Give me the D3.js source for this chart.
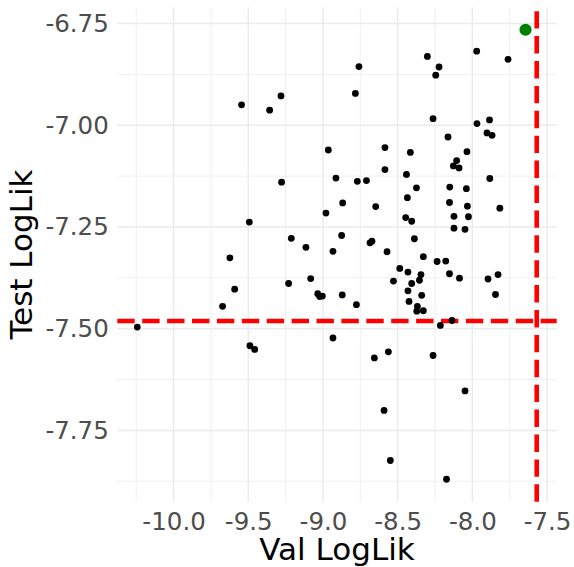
<!DOCTYPE html>
<html>
<head>
<meta charset="utf-8">
<script src="https://cdn.jsdelivr.net/npm/d3@7"></script>
<style>
  body { margin: 0; background: #fff; }
  text { font-family: "DejaVu Sans", sans-serif; }
</style>
</head>
<body>
<svg width="574" height="567"></svg>
<script>
// validation vs test log-likelihood, one point per run
var valLogLik = [
  -9.545, -9.357, -9.281, -8.964, -9.277, -8.913, -8.868, -8.980, -9.493, -9.212,
  -9.114, -8.875, -8.933, -9.623, -9.591, -9.672, -9.230, -9.082, -9.035, -9.022,
  -9.004, -8.871, -10.243, -8.933, -9.489, -9.457, -7.971, -7.761, -8.301, -8.223,
  -8.245, -8.759, -8.783, -8.263, -7.969, -7.885, -7.902, -7.868, -8.163, -8.585,
  -8.415, -8.036, -8.105, -8.127, -8.089, -8.585, -8.441, -8.770, -8.709, -7.883,
  -8.374, -8.151, -8.040, -8.647, -8.435, -8.153, -8.033, -7.816, -8.446, -8.406,
  -8.123, -8.026, -8.123, -8.049, -8.388, -8.685, -8.672, -8.571, -8.328, -8.236,
  -8.178, -8.486, -8.431, -8.344, -8.153, -8.086, -7.895, -7.828, -8.528, -8.406,
  -8.354, -8.431, -8.339, -7.845, -8.776, -8.424, -8.368, -8.372, -8.328, -8.136,
  -8.214, -8.562, -8.656, -8.263, -8.049, -8.591, -8.549, -8.173
];
var testLogLik = [
  -6.950, -6.963, -6.928, -7.061, -7.140, -7.130, -7.191, -7.216, -7.238, -7.278,
  -7.300, -7.271, -7.310, -7.326, -7.403, -7.445, -7.389, -7.377, -7.414, -7.421,
  -7.420, -7.417, -7.496, -7.523, -7.542, -7.551, -6.818, -6.838, -6.831, -6.857,
  -6.877, -6.856, -6.922, -6.984, -6.996, -6.987, -7.019, -7.025, -7.029, -7.055,
  -7.067, -7.065, -7.087, -7.100, -7.105, -7.109, -7.121, -7.138, -7.136, -7.131,
  -7.154, -7.152, -7.156, -7.200, -7.178, -7.190, -7.199, -7.204, -7.227, -7.236,
  -7.224, -7.225, -7.253, -7.256, -7.279, -7.289, -7.285, -7.311, -7.323, -7.335,
  -7.334, -7.352, -7.361, -7.367, -7.365, -7.376, -7.378, -7.367, -7.383, -7.389,
  -7.381, -7.407, -7.418, -7.416, -7.441, -7.433, -7.445, -7.457, -7.456, -7.480,
  -7.492, -7.557, -7.572, -7.566, -7.653, -7.701, -7.824, -7.870
];
// selected run
var bestVal = [-7.644];
var bestTest = [-6.7655];
// reference lines
var valCut = -7.569;
var testCut = -7.481;

var xTicks = [-10.0, -9.5, -9.0, -8.5, -8.0, -7.5];
var yTicks = [-7.75, -7.50, -7.25, -7.00, -6.75];
var xMinor = [-10.25, -9.75, -9.25, -8.75, -8.25, -7.75];
var yMinor = [-7.875, -7.625, -7.375, -7.125, -6.875];

var svg = d3.select("svg"),
    pLeft = 117.3, pRight = 556.7, pTop = 7.3, pBottom = 501.7;

// ggplot style 5% expansion
function expand(vals) {
  var e = d3.extent(vals), pad = (e[1] - e[0]) * 0.05;
  return [e[0] - pad, e[1] + pad];
}
var x = d3.scaleLinear()
  .domain(expand(valLogLik.concat(bestVal, [valCut])))
  .range([pLeft, pRight]);
var y = d3.scaleLinear()
  .domain(expand(testLogLik.concat(bestTest, [testCut])))
  .range([pBottom, pTop]);

var grid = svg.append("g").attr("class", "grid");
// minor grid
grid.selectAll("line.xminor").data(xMinor).enter().append("line")
  .attr("x1", function(d) { return x(d); }).attr("x2", function(d) { return x(d); })
  .attr("y1", pTop).attr("y2", pBottom)
  .attr("stroke", "#EBEBEB").attr("stroke-width", 0.75);
grid.selectAll("line.yminor").data(yMinor).enter().append("line")
  .attr("y1", function(d) { return y(d); }).attr("y2", function(d) { return y(d); })
  .attr("x1", pLeft).attr("x2", pRight)
  .attr("stroke", "#EBEBEB").attr("stroke-width", 0.75);
// major grid
grid.selectAll("line.xmajor").data(xTicks).enter().append("line")
  .attr("x1", function(d) { return x(d); }).attr("x2", function(d) { return x(d); })
  .attr("y1", pTop).attr("y2", pBottom)
  .attr("stroke", "#EBEBEB").attr("stroke-width", 1.5);
grid.selectAll("line.ymajor").data(yTicks).enter().append("line")
  .attr("y1", function(d) { return y(d); }).attr("y2", function(d) { return y(d); })
  .attr("x1", pLeft).attr("x2", pRight)
  .attr("stroke", "#EBEBEB").attr("stroke-width", 1.5);

// dashed reference lines
svg.append("line")
  .attr("x1", pLeft).attr("x2", pRight)
  .attr("y1", y(testCut)).attr("y2", y(testCut))
  .attr("stroke", "red").attr("stroke-width", 4.6)
  .attr("stroke-dasharray", "17.4,7.5");
svg.append("line")
  .attr("x1", x(valCut)).attr("x2", x(valCut))
  .attr("y1", pBottom).attr("y2", pTop)
  .attr("stroke", "red").attr("stroke-width", 4.6)
  .attr("stroke-dasharray", "17.4,7.5");

// points
svg.append("g").selectAll("circle")
  .data(valLogLik)
  .enter().append("circle")
  .attr("cx", function(d) { return x(d); })
  .attr("cy", function(d, i) { return y(testLogLik[i]); })
  .attr("r", 3.4)
  .attr("fill", "black");

svg.append("g").selectAll("circle")
  .data(bestVal)
  .enter().append("circle")
  .attr("cx", function(d) { return x(d); })
  .attr("cy", function(d, i) { return y(bestTest[i]); })
  .attr("r", 6.1)
  .attr("fill", "#008000");

// axes, no ticks or domain line
var xAxis = svg.append("g")
  .attr("transform", "translate(0," + pBottom + ")")
  .call(d3.axisBottom(x).tickValues(xTicks).tickSize(0).tickPadding(11)
    .tickFormat(function(d) { return d.toFixed(1); }));
var yAxis = svg.append("g")
  .attr("transform", "translate(" + pLeft + ",0)")
  .call(d3.axisLeft(y).tickValues(yTicks).tickSize(0).tickPadding(8.5)
    .tickFormat(function(d) { return d.toFixed(2); }));
[xAxis, yAxis].forEach(function(a) {
  a.select(".domain").remove();
  a.selectAll("text")
    .attr("fill", "#4D4D4D")
    .style("font-size", "24.5px")
    .style("font-family", "'DejaVu Sans', sans-serif");
});

svg.append("text")
  .attr("x", (pLeft + pRight) / 2).attr("y", 560)
  .attr("text-anchor", "middle")
  .style("font-size", "31px")
  .text("Val LogLik");
svg.append("text")
  .attr("transform", "translate(32," + (pTop + pBottom) / 2 + ") rotate(-90)")
  .attr("text-anchor", "middle")
  .style("font-size", "31px")
  .text("Test LogLik");
</script>
</body>
</html>
